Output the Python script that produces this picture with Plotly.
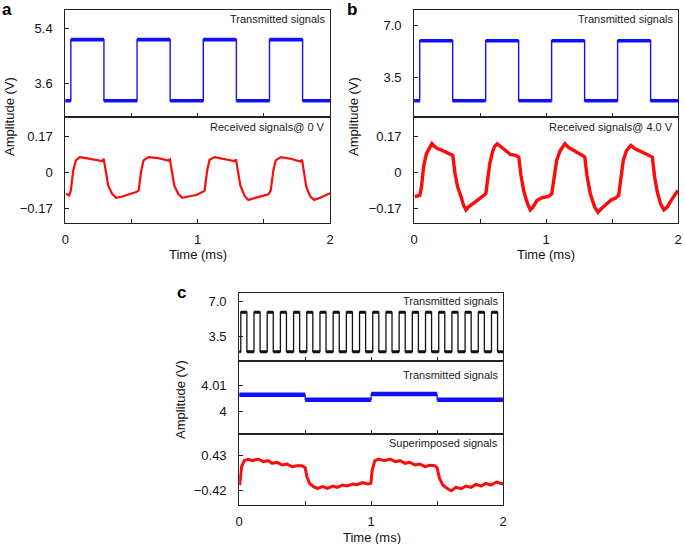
import plotly.graph_objects as go

W, H = 685, 544

# ---------------- data ----------------
# panel a: transmitted square wave (transition times, levels held until next time)
a_tx_t = [0, 0.042, 0.292, 0.542, 0.792, 1.042, 1.292, 1.542, 1.792, 2.0]
a_tx_v = [3.02, 5.02, 3.02, 5.02, 3.02, 5.02, 3.02, 5.02, 3.02, 3.02]

# panel a: received signal @ 0 V
a_rx_t = [0.005, 0.03, 0.042, 0.06, 0.08, 0.11, 0.155, 0.23, 0.28, 0.29, 0.304, 0.324, 0.354, 0.384, 0.43, 0.49, 0.536,
          0.554, 0.574, 0.591, 0.628, 0.703, 0.778, 0.79, 0.803, 0.823, 0.853, 0.883, 0.928, 0.99, 1.035,
          1.052, 1.072, 1.09, 1.127, 1.202, 1.277, 1.289, 1.302, 1.322, 1.352, 1.382, 1.426, 1.489, 1.534,
          1.551, 1.571, 1.589, 1.626, 1.701, 1.776, 1.788, 1.80, 1.82, 1.85, 1.88, 1.925, 1.963, 2.0]
a_rx_v = [-0.102, -0.110, -0.087, 0.008, 0.055, 0.071, 0.066, 0.058, 0.052, 0.063, 0.008, -0.063, -0.102, -0.121, -0.115, -0.105, -0.094,
          -0.087, 0.008, 0.055, 0.071, 0.066, 0.055, 0.060, 0.008, -0.063, -0.102, -0.121, -0.115, -0.108, -0.094,
          -0.087, 0.010, 0.058, 0.071, 0.063, 0.052, 0.060, 0.008, -0.063, -0.110, -0.131, -0.123, -0.113, -0.105,
          -0.087, 0.008, 0.055, 0.071, 0.063, 0.050, 0.058, 0.008, -0.070, -0.115, -0.131, -0.121, -0.110, -0.100]

# panel b: transmitted square wave
b_tx_t = [0, 0.042, 0.292, 0.542, 0.792, 1.042, 1.292, 1.542, 1.792, 2.0]
b_tx_v = [1.97, 5.96, 1.97, 5.96, 1.97, 5.96, 1.97, 5.96, 1.97, 1.97]

# panel b: received signal @ 4.0 V
b_rx_t = [0.005, 0.043, 0.055, 0.073, 0.093, 0.118, 0.135, 0.155, 0.18, 0.205, 0.243, 0.275, 0.293, 0.31, 0.33, 0.355, 0.375,
          0.393, 0.41, 0.443, 0.48, 0.518, 0.543,
          0.555, 0.573, 0.593, 0.61, 0.63, 0.655, 0.693, 0.73, 0.768, 0.793, 0.81, 0.83, 0.855, 0.88, 0.90, 0.93, 0.968, 1.018, 1.043,
          1.06, 1.08, 1.105, 1.13, 1.143, 1.168, 1.205, 1.243, 1.275, 1.293, 1.31, 1.335, 1.368, 1.393, 1.418, 1.455, 1.493, 1.53, 1.55,
          1.568, 1.585, 1.61, 1.643, 1.675, 1.71, 1.743, 1.78, 1.805, 1.823, 1.843, 1.868, 1.893, 1.918, 1.955, 2.0]
b_rx_v = [-0.115, -0.110, -0.071, 0.031, 0.087, 0.118, 0.134, 0.121, 0.110, 0.105, 0.094, 0.087, 0.079, -0.008, -0.071, -0.115, -0.157,
          -0.178, -0.165, -0.150, -0.131, -0.110, -0.102,
          -0.047, 0.039, 0.094, 0.121, 0.134, 0.121, 0.105, 0.083, 0.079, 0.071, -0.016, -0.087, -0.142, -0.178, -0.165, -0.134, -0.121, -0.115, -0.102,
          -0.031, 0.055, 0.099, 0.126, 0.134, 0.118, 0.102, 0.090, 0.079, 0.071, -0.016, -0.102, -0.165, -0.189, -0.173, -0.150, -0.131, -0.121, -0.110,
          -0.024, 0.055, 0.102, 0.126, 0.110, 0.099, 0.090, 0.079, 0.071, -0.024, -0.094, -0.150, -0.178, -0.165, -0.126, -0.087]

# panel c: fast transmitted square wave (transition times, levels)
c_tx_t = [0, 0.012, 0.058, 0.112, 0.158, 0.212, 0.258, 0.312, 0.358, 0.412, 0.458, 0.512, 0.558, 0.612, 0.658,
          0.712, 0.758, 0.812, 0.858, 0.912, 0.958, 1.012, 1.058, 1.112, 1.158, 1.212, 1.258, 1.312, 1.358,
          1.412, 1.458, 1.512, 1.558, 1.612, 1.658, 1.712, 1.758, 1.812, 1.858, 1.912, 1.958, 2.0]
c_tx_v = [2.0, 5.95, 2.0, 5.95, 2.0, 5.95, 2.0, 5.95, 2.0, 5.95, 2.0, 5.95, 2.0, 5.95, 2.0,
          5.95, 2.0, 5.95, 2.0, 5.95, 2.0, 5.95, 2.0, 5.95, 2.0, 5.95, 2.0, 5.95, 2.0,
          5.95, 2.0, 5.95, 2.0, 5.95, 2.0, 5.95, 2.0, 5.95, 2.0, 5.95, 2.0, 2.0]

# panel c: slow transmitted signal
c_mid_t = [0, 0.5, 1.0, 1.5, 2.0]
c_mid_v = [4.0064, 4.0045, 4.0067, 4.0045, 4.0045]

# panel c: superimposed signal
c_sup_t = [0.003, 0.018, 0.038, 0.068, 0.10, 0.143, 0.183, 0.218, 0.25, 0.288, 0.325, 0.363, 0.40, 0.438, 0.475, 0.50,
           0.513, 0.533, 0.563, 0.593, 0.633, 0.668, 0.708, 0.743, 0.783, 0.818, 0.858, 0.893, 0.933, 0.975, 0.998,
           1.008, 1.028, 1.058, 1.10, 1.143, 1.183, 1.218, 1.258, 1.293, 1.333, 1.368, 1.408, 1.443, 1.483, 1.50,
           1.518, 1.543, 1.575, 1.608, 1.643, 1.683, 1.718, 1.758, 1.793, 1.833, 1.868, 1.908, 1.95, 1.975, 2.0]
c_sup_v = [-0.285, 0.152, 0.295, 0.327, 0.295, 0.335, 0.271, 0.295, 0.232, 0.255, 0.192, 0.216, 0.152, 0.176, 0.176, 0.128,
           -0.086, -0.245, -0.324, -0.364, -0.324, -0.364, -0.308, -0.340, -0.285, -0.308, -0.261, -0.277, -0.229, -0.261, -0.245,
           0.073, 0.295, 0.335, 0.295, 0.335, 0.271, 0.295, 0.232, 0.255, 0.192, 0.216, 0.152, 0.184, 0.176, 0.128,
           -0.126, -0.285, -0.364, -0.420, -0.340, -0.372, -0.308, -0.340, -0.269, -0.308, -0.245, -0.285, -0.213, -0.245, -0.261]

x_ticks = [0, 0.5, 1, 1.5, 2]
x_ticktext = ["0", "", "1", "", "2"]

FONT = "Liberation Sans, Arial, Helvetica, sans-serif"
BLUE = "#1010ff"
RED = "#ff0a0a"


def px(x):
    return x / W


def py(y):
    return 1 - y / H


def plateaus(t, v):
    xs, ys = [], []
    for i in range(len(t) - 1):
        xs += [t[i], t[i + 1], None]
        ys += [v[i], v[i], None]
    return xs, ys


fig = go.Figure()


def add_step(t, v, ax, color, thin, thick):
    fig.add_trace(go.Scatter(x=t, y=v, mode="lines", line=dict(color=color, width=thin, shape="hv"),
                             xaxis="x" + ax, yaxis="y" + ax, hoverinfo="skip"))
    xs, ys = plateaus(t, v)
    fig.add_trace(go.Scatter(x=xs, y=ys, mode="lines", line=dict(color=color, width=thick),
                             xaxis="x" + ax, yaxis="y" + ax, hoverinfo="skip"))


add_step(a_tx_t, a_tx_v, "", BLUE, 1.4, 3.6)
fig.add_trace(go.Scatter(x=a_rx_t, y=a_rx_v, mode="lines", line=dict(color=RED, width=2.2),
                         xaxis="x2", yaxis="y2"))
add_step(b_tx_t, b_tx_v, "3", BLUE, 1.4, 3.6)
fig.add_trace(go.Scatter(x=b_rx_t, y=b_rx_v, mode="lines", line=dict(color=RED, width=3.4),
                         xaxis="x4", yaxis="y4"))
add_step(c_tx_t, c_tx_v, "5", "#111111", 1.3, 3)
add_step(c_mid_t, c_mid_v, "6", BLUE, 1.2, 4.5)
fig.add_trace(go.Scatter(x=c_sup_t, y=c_sup_v, mode="lines", line=dict(color=RED, width=3),
                         xaxis="x7", yaxis="y7"))

AX = dict(showgrid=False, zeroline=False, showline=True, linecolor="#222", linewidth=1, mirror=True,
          ticks="inside", ticklen=4, tickcolor="#222", tickfont=dict(family=FONT, size=13, color="#111"))


def xax(dom, anchor, labels):
    d = dict(AX, domain=dom, anchor=anchor, range=[0, 2], tickvals=x_ticks, ticktext=x_ticktext,
             showticklabels=labels, ticklabelstandoff=4)
    return d


def yax(dom, anchor, rng, vals, text):
    return dict(AX, domain=dom, anchor=anchor, range=rng, tickvals=vals, ticktext=text, ticklabelstandoff=9)


xa = [px(62), px(330)]
xb = [px(415), px(682)]
xc = [px(238), px(505)]

fig.update_layout(
    width=W, height=H, margin=dict(l=0, r=0, t=0, b=0), showlegend=False,
    paper_bgcolor="white", plot_bgcolor="white",
    xaxis=xax(xa, "y", False),
    yaxis=yax([py(117), py(10)], "x", [2.49, 5.99], [3.6, 5.4], ["3.6", "5.4"]),
    xaxis2=xax(xa, "y2", True),
    yaxis2=yax([py(223), py(117)], "x2", [-0.24, 0.26], [-0.17, 0, 0.17], ["\u22120.17", "0", "0.17"]),
    xaxis3=xax(xb, "y3", False),
    yaxis3=yax([py(117), py(10)], "x3", [0.89, 8.0], [3.5, 7.0], ["3.5", "7.0"]),
    xaxis4=xax(xb, "y4", True),
    yaxis4=yax([py(223), py(117)], "x4", [-0.24, 0.26], [-0.17, 0, 0.17], ["\u22120.17", "0", "0.17"]),
    xaxis5=xax(xc, "y5", False),
    yaxis5=yax([py(361), py(292.7)], "x5", [1.07, 7.9], [3.5, 7.0], ["3.5", "7.0"]),
    xaxis6=xax(xc, "y6", False),
    yaxis6=yax([py(434), py(361)], "x6", [3.9911, 4.0196], [4.0, 4.01], ["4", "4.01"]),
    xaxis7=xax(xc, "y7", True),
    yaxis7=yax([py(505), py(434)], "x7", [-0.76, 0.93], [-0.42, 0.43], ["\u22120.42", "0.43"]),
)

ann = []


def text(x, y, s, size=11, xanchor="right", bold=False, angle=0, color="#222"):
    ann.append(dict(x=px(x), y=py(y), xref="paper", yref="paper", text=("<b>%s</b>" % s) if bold else s,
                    showarrow=False, xanchor=xanchor, yanchor="middle", textangle=angle,
                    font=dict(family=FONT, size=size, color=color)))


# panel letters
text(-4, 9, "a", 17, "left", True, color="#000")
text(345, 9, "b", 17, "left", True, color="#000")
text(173, 292, "c", 17, "left", True, color="#000")
# in-panel labels
text(327, 19, "Transmitted signals")
text(327, 127, "Received signals@ 0 V")
text(679, 19, "Transmitted signals")
text(679, 127, "Received signals@ 4.0 V")
text(502, 301, "Transmitted signals")
text(502, 375, "Transmitted signals")
text(502, 443, "Superimposed signals")
# axis titles
text(196, 254, "Time (ms)", 13, "center", color="#111")
text(548, 254, "Time (ms)", 13, "center", color="#111")
text(372, 537, "Time (ms)", 13, "center", color="#111")
text(5, 116, "Amplitude (V)", 13, "center", angle=-90, color="#111")
text(353, 116, "Amplitude (V)", 13, "center", angle=-90, color="#111")
text(178, 399, "Amplitude (V)", 13, "center", angle=-90, color="#111")
fig.update_layout(annotations=ann)

fig.write_html("out.html", config={"displayModeBar": False},
               post_script="document.body.style.margin='0';document.body.style.overflow='hidden';")
